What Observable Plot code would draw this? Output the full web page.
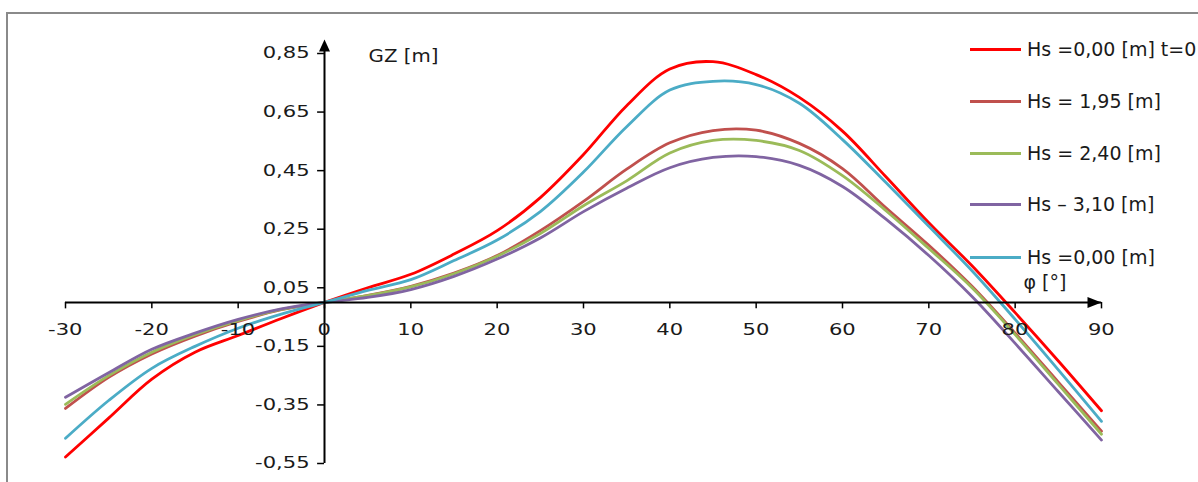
<!DOCTYPE html>
<html>
<head>
<meta charset="utf-8">
<script src="https://cdn.jsdelivr.net/npm/d3@7"></script>
<script src="https://cdn.jsdelivr.net/npm/@observablehq/plot@0.6"></script>
<style>
  html, body { margin: 0; padding: 0; background: #fff; }
  body { font-family: "DejaVu Sans", Verdana, sans-serif; }
  #wrap { position: relative; width: 1198px; height: 482px; overflow: hidden; }
  #frame { position: absolute; left: 6px; top: 12px; width: 1300px; height: 600px;
           border-left: 2.5px solid #8a8a8a; border-top: 2px solid #8a8a8a; }
  #wrap svg { position: absolute; left: 0; top: 0; }
  #legend { position: absolute; left: 970px; top: 0; }
  .row { position: absolute; left: 0; height: 24px; display: flex; align-items: center; white-space: nowrap; }
  .row .sw { width: 51px; height: 3px; margin-right: 6px; }
  .row .t { font-size: 19px; color: #1a1a1a; }
</style>
</head>
<body>
<div id="wrap"><div id="frame"></div></div>
<script>
// ---- data ----
const angles = [-30,-25,-20,-15,-10,-5,0,5,10,15,20,25,30,35,40,45,50,55,60,65,70,75,80,85,90];
const gzHs000t0 = [-0.528,-0.395,-0.262,-0.17,-0.113,-0.055,0,0.05,0.096,0.165,0.245,0.358,0.505,0.672,0.797,0.822,0.778,0.70,0.585,0.43,0.272,0.125,-0.035,-0.20,-0.37];
const gzHs195   = [-0.362,-0.256,-0.176,-0.115,-0.065,-0.025,0,0.024,0.055,0.10,0.16,0.245,0.345,0.455,0.545,0.587,0.588,0.543,0.457,0.324,0.195,0.055,-0.105,-0.272,-0.44];
const gzHs240   = [-0.348,-0.25,-0.17,-0.11,-0.062,-0.024,0,0.023,0.053,0.098,0.158,0.235,0.33,0.415,0.51,0.553,0.553,0.519,0.433,0.314,0.184,0.05,-0.11,-0.28,-0.45];
const gzHs310   = [-0.324,-0.24,-0.16,-0.105,-0.058,-0.022,0,0.017,0.044,0.089,0.148,0.22,0.31,0.39,0.46,0.495,0.498,0.468,0.396,0.285,0.16,0.02,-0.14,-0.305,-0.47];
const gzHs000   = [-0.464,-0.335,-0.225,-0.15,-0.088,-0.04,0,0.041,0.078,0.143,0.213,0.31,0.445,0.6,0.725,0.755,0.744,0.68,0.556,0.41,0.26,0.108,-0.058,-0.23,-0.406];

const seriesNames  = ["Hs =0,00 [m] t=0", "Hs = 1,95 [m]", "Hs = 2,40 [m]", "Hs \u2013 3,10 [m]", "Hs =0,00 [m]"];
const seriesValues = [gzHs000t0, gzHs195, gzHs240, gzHs310, gzHs000];
const seriesColors = ["#ff0000", "#c0504d", "#9bbb59", "#8064a2", "#4bacc6"];

const xTicks = [-30,-20,-10,0,10,20,30,40,50,60,70,80,90];
const yTicks = [-0.55,-0.35,-0.15,0.05,0.25,0.45,0.65,0.85];
const xDomain = [-30, 90];
const yDomain = [-0.55, 0.85];
const yAxisLabel = "GZ [m]";
const xAxisLabel = "\u03c6 [\u00b0]";

// ---- build table ----
const rows = [];
seriesNames.forEach((name, i) => {
  seriesValues[i].forEach((v, j) => rows.push({angle: angles[j], gz: v, name}));
});

const fmt = v => v.toFixed(2).replace(".", ",");

// arrowhead symbols (tip at origin)
const arrowRight = {draw(ctx) { ctx.moveTo(0, 0); ctx.lineTo(-14, -5.5); ctx.lineTo(-14, 5.5); ctx.closePath(); }};
const arrowUp = {draw(ctx) { ctx.moveTo(0, 0); ctx.lineTo(-5.5, 12); ctx.lineTo(5.5, 12); ctx.closePath(); }};

const yTop = yDomain[1] + 0.048;

const chart = Plot.plot({
  width: 1198,
  height: 482,
  marginLeft: 65,
  marginRight: 97,
  marginTop: 53,
  marginBottom: 19,
  x: {domain: xDomain, axis: null},
  y: {domain: yDomain, axis: null},
  color: {domain: seriesNames, range: seriesColors},
  style: {fontFamily: "'DejaVu Sans', Verdana, sans-serif", background: "transparent", overflow: "visible", color: "#1a1a1a"},
  marks: [
    Plot.line(rows, {x: "angle", y: "gz", z: "name", stroke: "name", strokeWidth: 2.8, curve: "catmull-rom"}),
    // axes
    Plot.ruleY([0], {x1: xDomain[0], x2: xDomain[1], stroke: "black", strokeWidth: 2}),
    Plot.ruleX([0], {y1: yDomain[0], y2: yTop - 0.02, stroke: "black", strokeWidth: 2}),
    Plot.ruleX(xTicks, {x: d => d, y1: 0, y2: -0.022, stroke: "black", strokeWidth: 1.5}),
    Plot.ruleY(yTicks, {y: d => d, x1: -0.8, x2: 0, stroke: "black", strokeWidth: 1.5}),
    Plot.dot([{x: xDomain[1], y: 0}], {x: "x", y: "y", symbol: arrowRight, fill: "black", stroke: null}),
    Plot.dot([{x: 0, y: yTop}], {x: "x", y: "y", symbol: arrowUp, fill: "black", stroke: null}),
    // tick labels
    Plot.text(xTicks, {x: d => d, y: 0, dy: 28, text: d => String(d), fontSize: 15.5, fill: "#1a1a1a", ariaDescription: "x-tick-labels"}),
    Plot.text(yTicks, {x: 0, y: d => d, dx: -23, textAnchor: "end", text: fmt, fontSize: 15.5, fill: "#1a1a1a", ariaDescription: "y-tick-labels"}),
    // axis titles
    Plot.text([yAxisLabel], {x: 0, y: yDomain[1], dx: 49, dy: 3, textAnchor: "start", text: d => d, fontSize: 18, fill: "#1a1a1a", ariaDescription: "y-title"}),
    Plot.text([xAxisLabel], {x: xDomain[1], y: 0, dx: -78, dy: -20, textAnchor: "start", text: d => d, fontSize: 19, fill: "#1a1a1a"})
  ]
});

document.getElementById("wrap").append(chart);

// text in the reference is horizontally stretched: scale each label about its anchor
function stretch(selector, k, anchor) {
  const s = chart.getBoundingClientRect();
  for (const t of Array.from(chart.querySelectorAll(selector))) {
    const r = t.getBoundingClientRect();
    const ax = (anchor === "end" ? r.right : anchor === "start" ? r.left : (r.left + r.right) / 2) - s.left;
    const g = document.createElementNS("http://www.w3.org/2000/svg", "g");
    g.setAttribute("transform", `translate(${ax},0) scale(${k},1) translate(${-ax},0)`);
    t.parentNode.insertBefore(g, t);
    g.appendChild(t);
  }
}
stretch('g[aria-description="x-tick-labels"] text', 1.36, "middle");
stretch('g[aria-description="y-tick-labels"] text', 1.36, "end");
stretch('g[aria-description="y-title"] text', 1.1, "start");

// legend
const legend = document.createElement("div");
legend.id = "legend";
const rowCenters = [49, 101, 153, 204, 257];
seriesNames.forEach((name, i) => {
  const r = document.createElement("div");
  r.className = "row";
  r.style.top = (rowCenters[i] - 12) + "px";
  const sw = document.createElement("span");
  sw.className = "sw";
  sw.style.background = seriesColors[i];
  const t = document.createElement("span");
  t.className = "t";
  t.textContent = name;
  r.append(sw, t);
  legend.append(r);
});
document.getElementById("wrap").append(legend);
</script>
</body>
</html>
